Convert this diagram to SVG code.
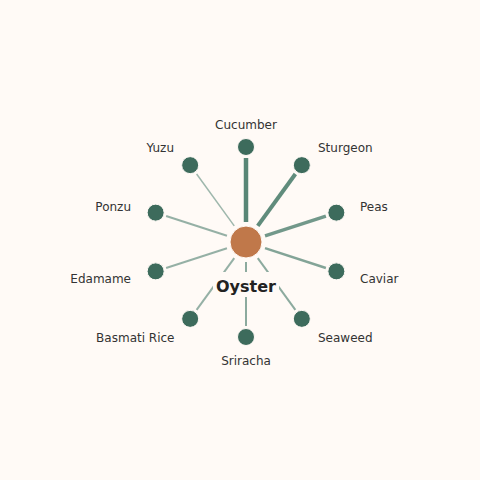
<svg xmlns="http://www.w3.org/2000/svg" width="480" height="480" viewBox="0 0 480 480">
<style>
.lbl{font-family:"DejaVu Sans",sans-serif;font-size:12px;fill:#333333}
.leaf{fill:#3d6b5c;stroke:#fffaf6;stroke-width:1}
.edge{stroke:#4f7f6f;stroke-linecap:butt;fill:none}
</style>
<rect width="480" height="480" fill="#fffaf6"/>
<g id="connectors">
<line class="edge" x1="246" y1="222" x2="246" y2="158" stroke-width="4.5" stroke-opacity="0.95"/>
<line class="edge" x1="257.76" y1="225.82" x2="295.38" y2="174.04" stroke-width="4" stroke-opacity="0.9"/>
<line class="edge" x1="265.02" y1="235.82" x2="325.89" y2="216.04" stroke-width="3.5" stroke-opacity="0.8"/>
<line class="edge" x1="265.02" y1="248.18" x2="325.89" y2="267.96" stroke-width="2.5" stroke-opacity="0.7"/>
<line class="edge" x1="257.76" y1="258.18" x2="295.38" y2="309.96" stroke-width="2" stroke-opacity="0.65"/>
<line class="edge" x1="246" y1="262" x2="246" y2="326" stroke-width="2" stroke-opacity="0.65"/>
<line class="edge" x1="234.24" y1="258.18" x2="196.62" y2="309.96" stroke-width="2" stroke-opacity="0.6"/>
<line class="edge" x1="226.98" y1="248.18" x2="166.11" y2="267.96" stroke-width="2" stroke-opacity="0.6"/>
<line class="edge" x1="226.98" y1="235.82" x2="166.11" y2="216.04" stroke-width="2" stroke-opacity="0.6"/>
<line class="edge" x1="234.24" y1="225.82" x2="196.62" y2="174.04" stroke-width="1.5" stroke-opacity="0.55"/>
</g>
<g id="center">
<circle cx="246" cy="242" r="16" fill="#c0784a" stroke="#fffaf6" stroke-width="1"/>
<rect x="213" y="272" width="66" height="25" fill="#fffaf6"/>
<text x="246" y="291.5" text-anchor="middle" font-family="DejaVu Sans,sans-serif" font-size="16" font-weight="bold" fill="#222222">Oyster</text>
</g>
<g id="n-cucumber"><circle class="leaf" cx="246" cy="147" r="8.5"/><text class="lbl" x="246" y="129" text-anchor="middle">Cucumber</text></g>
<g id="n-sturgeon"><circle class="leaf" cx="301.84" cy="165.14" r="8.5"/><text class="lbl" x="318" y="152">Sturgeon</text></g>
<g id="n-peas"><circle class="leaf" cx="336.35" cy="212.64" r="8.5"/><text class="lbl" x="360" y="211">Peas</text></g>
<g id="n-caviar"><circle class="leaf" cx="336.35" cy="271.36" r="8.5"/><text class="lbl" x="360" y="283">Caviar</text></g>
<g id="n-seaweed"><circle class="leaf" cx="301.84" cy="318.86" r="8.5"/><text class="lbl" x="318" y="342">Seaweed</text></g>
<g id="n-sriracha"><circle class="leaf" cx="246" cy="337" r="8.5"/><text class="lbl" x="246" y="365" text-anchor="middle">Sriracha</text></g>
<g id="n-basmati"><circle class="leaf" cx="190.16" cy="318.86" r="8.5"/><text class="lbl" x="174.5" y="342" text-anchor="end">Basmati Rice</text></g>
<g id="n-edamame"><circle class="leaf" cx="155.65" cy="271.36" r="8.5"/><text class="lbl" x="131" y="283" text-anchor="end">Edamame</text></g>
<g id="n-ponzu"><circle class="leaf" cx="155.65" cy="212.64" r="8.5"/><text class="lbl" x="131" y="211" text-anchor="end">Ponzu</text></g>
<g id="n-yuzu"><circle class="leaf" cx="190.16" cy="165.14" r="8.5"/><text class="lbl" x="174" y="152" text-anchor="end">Yuzu</text></g>
</svg>
